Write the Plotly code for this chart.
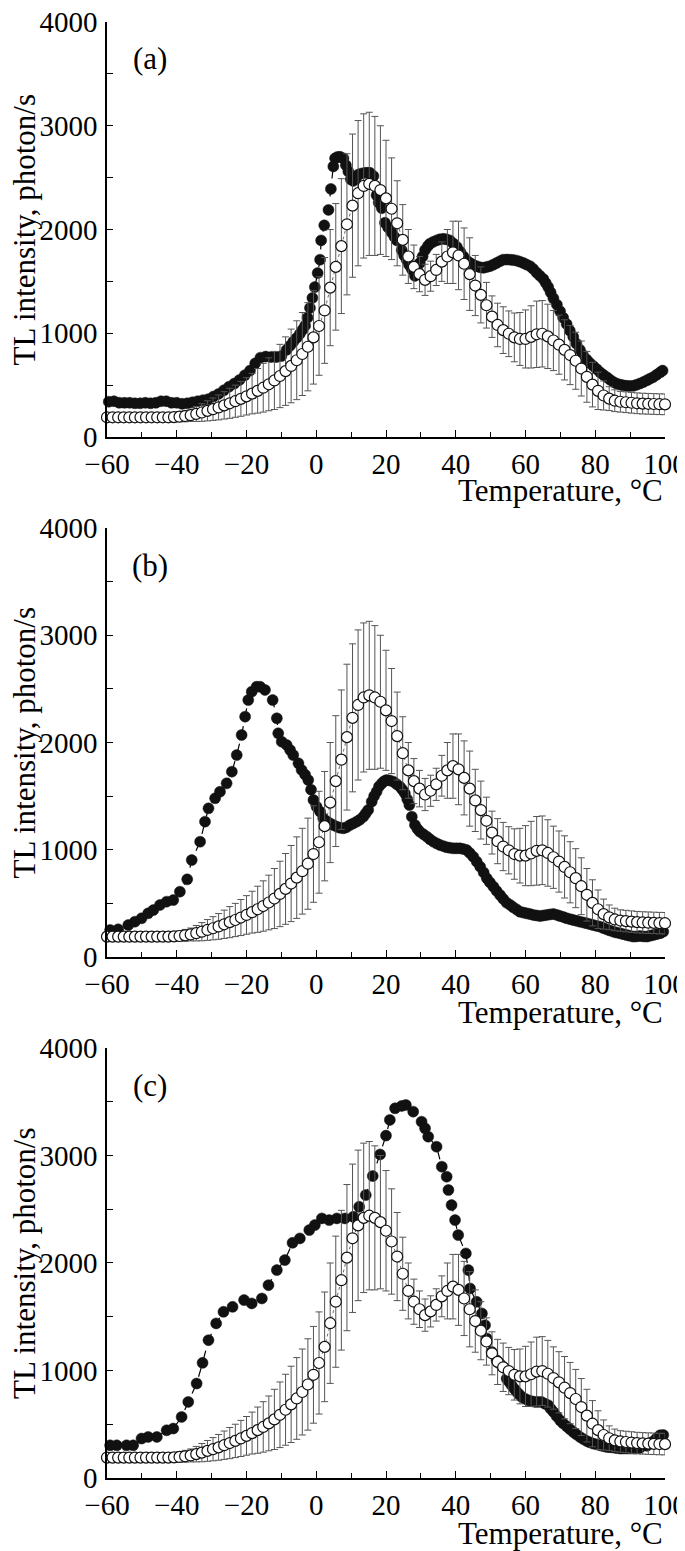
import plotly.graph_objects as go
from plotly.subplots import make_subplots

# ---------------- data ----------------
# control (open circles, mean +/- SD), same in all three panels
ctrl_t = [round(-60 + 1.6 * i, 1) for i in range(101)]
ctrl_v = [190, 190, 190, 190, 190, 190, 190, 190, 190, 190, 190, 190,
          192, 196, 202, 210, 222, 236, 252, 268, 285, 305, 325, 345, 368, 392,
          418, 445, 475, 508, 545, 588, 635, 685, 740, 800, 870, 960, 1070, 1220,
          1440, 1640, 1840, 2050, 2230, 2350, 2420, 2440, 2420, 2380, 2300, 2200,
          2060, 1900, 1740, 1640, 1570, 1515, 1550, 1610, 1690, 1740, 1780, 1750,
          1670, 1570, 1460, 1370, 1270, 1160, 1080, 1030, 995, 960, 945, 945, 965,
          990, 995, 970, 930, 890, 840, 790, 735, 660, 580, 505, 445, 400, 370,
          350, 340, 335, 330, 325, 322, 320, 318, 316, 315]
ctrl_err = [35, 35, 35, 35, 35, 35, 35, 35, 35, 35, 35, 35,
            45, 48, 55, 60, 72, 85, 97, 108, 120, 132, 145, 155, 168, 180,
            195, 215, 235, 255, 280, 305, 330, 355, 380, 400, 425, 450, 475, 510,
            560, 610, 650, 680, 690, 700, 695, 690, 670, 620, 560, 490,
            410, 340, 260, 210, 170, 150, 145, 150, 190, 260, 300, 330,
            345, 350, 290, 270, 220, 200, 210, 225, 220, 235, 255, 280, 300,
            320, 320, 310, 290, 285, 290, 285, 275, 265, 245, 215, 180, 140, 115,
            105, 100, 100, 100, 100, 100, 100, 100, 100, 100]

# panel (a) filled circles
a_t = [-59.5, -58, -56.5, -55, -53.5, -52, -50.5, -49, -47.5, -46, -44.5, -43, -41.5, -40,
       -38.5, -37, -35.5, -34, -32.5, -31, -29.5, -28, -26.5, -25, -23.5, -22, -20.5, -19,
       -17.5, -16, -14.5, -13, -11.5, -10, -8.5, -7.5, -6.6, -5.6, -4.7, -3.9, -3.2, -2.5,
       -1.8, -1.1, -0.4, 0.4, 1.1, 1.4, 2.3, 3.5, 4.2, 4.9, 5.4, 6.1, 6.8, 7.8, 8.5, 9.2,
       9.9, 10.6, 11.4, 12.1, 13.0, 14.0, 14.8, 15.4, 16.4, 17.3, 17.9, 18.8, 19.7, 20.6,
       21.6, 22.4, 23.1, 24.5, 25.2, 25.9, 26.6, 27.4, 28.3, 29.0, 29.7, 30.5, 31.2, 32.0,
       32.6, 33.5, 34.5, 35.4, 36.4, 37.3, 38.3, 39.3, 40.3, 41.3, 42.2, 43.2, 44.1, 45.0,
       46.0, 47.0, 47.9, 48.8, 49.8, 50.7, 51.7, 52.7, 53.6, 54.6, 55.6, 56.5, 57.5, 58.4,
       59.4, 60.3, 61.3, 62.2, 63.2, 64.1, 65.1, 65.8, 66.5, 67.2, 68.0, 69.0, 69.9, 70.8,
       71.8, 72.7, 73.7, 74.6, 75.6, 76.5, 77.5, 78.4, 79.4, 80.4, 81.4, 82.3, 83.3, 84.2,
       85.2, 86.1, 87.1, 88.0, 89.0, 89.9, 90.9, 91.8, 92.8, 93.8, 94.8, 95.7, 96.6, 97.6,
       98.6, 99.3]
a_v = [340, 345, 330, 330, 330, 325, 325, 330, 325, 330, 345, 345, 330, 330,
       320, 325, 335, 345, 355, 365, 390, 415, 450, 485, 515, 550, 595, 640,
       710, 765, 775, 770, 770, 780, 840, 880, 918, 955, 995, 1035, 1073, 1150,
       1244, 1340, 1445, 1580, 1709, 1895, 2040, 2189, 2391, 2608, 2686, 2700, 2701, 2686, 2620, 2560,
       2484, 2468, 2500, 2530, 2540, 2546, 2546, 2546, 2515, 2330, 2260, 2205, 2065, 2020,
       1972, 1930, 1895, 1802, 1750, 1709, 1660, 1616, 1553, 1600, 1677, 1740, 1802, 1840,
       1863, 1880, 1895, 1905, 1910, 1905, 1895, 1865, 1833, 1785, 1740, 1700, 1677, 1660,
       1647, 1635, 1631, 1638, 1647, 1660, 1677, 1695, 1709, 1710, 1709, 1705, 1700, 1690,
       1677, 1662, 1647, 1620, 1584, 1555, 1523, 1485, 1445, 1395, 1337, 1275, 1212, 1150,
       1088, 1025, 965, 900, 840, 790, 747, 715, 685, 655, 623, 600, 577, 553,
       530, 515, 505, 498, 493, 492, 493, 503, 515, 530, 546, 562, 577, 600,
       623, 640]

# panel (b) filled circles
b_t = [-59.1, -56.8, -53.9, -52.0, -50.1, -48.2, -46.7, -44.8, -42.9, -41.0, -39.1, -37.0,
       -35.7, -33.3, -31.9, -30.9, -29.0, -27.6, -25.7, -24.2, -22.8, -21.4, -20.4, -19.5,
       -18.5, -17.1, -16.1, -14.7, -12.5, -11.3, -10.9, -9.9, -8.5, -7.5, -6.6, -5.1, -4.2,
       -3.2, -2.3, -1.5, -0.8, 0.1, 1.1, 2.0, 3.0, 3.9, 4.9, 5.9, 6.8, 7.8, 8.7, 9.7, 10.6,
       11.6, 12.5, 13.5, 14.2, 14.9, 15.9, 16.6, 17.3, 18.0, 18.8, 19.5, 20.2, 21.1, 22.1,
       23.0, 24.0, 24.7, 25.4, 26.1, 26.7, 27.4, 28.3, 29.0, 29.7, 30.7, 31.7, 32.6, 33.6,
       34.6, 35.5, 36.5, 37.4, 38.3, 39.3, 40.2, 41.2, 42.1, 43.1, 44.0, 45.0, 46.0, 47.0,
       48.0, 48.9, 49.8, 50.8, 51.7, 52.7, 53.6, 54.6, 55.6, 56.5, 57.5, 58.4, 59.4, 60.3,
       61.3, 62.2, 63.2, 64.2, 65.1, 66.1, 67.0, 68.0, 69.0, 69.9, 70.9, 71.8, 72.8, 73.7,
       74.7, 75.6, 76.6, 77.5, 78.5, 79.4, 80.4, 81.4, 82.3, 83.3, 84.2, 85.2, 86.1, 87.1,
       88.0, 89.0, 89.9, 90.9, 91.8, 92.8, 93.8, 94.8, 95.7, 96.6, 97.6, 98.6, 99.5]
b_v = [252, 258, 298, 329, 361, 407, 438, 485, 516, 531, 609, 724,
       904, 1075, 1262, 1386, 1480, 1541, 1619, 1728, 1883, 2070, 2241, 2396,
       2474, 2520, 2520, 2490, 2396, 2226, 2086, 2008, 1977, 1930, 1883, 1806, 1744,
       1700, 1650, 1560, 1464, 1401, 1355, 1293, 1265, 1247, 1230, 1215, 1205, 1200, 1210, 1231, 1245,
       1262, 1280, 1308, 1340, 1371, 1448, 1500, 1541, 1590, 1619, 1640, 1650, 1645, 1635,
       1612, 1588, 1560, 1526, 1470, 1417, 1308, 1231, 1195, 1168, 1145, 1122, 1098, 1075,
       1058, 1044, 1033, 1023, 1018, 1013, 1013, 1013, 1008, 998, 970, 935, 890, 842,
       788, 734, 695, 656, 617, 578, 542, 506, 485, 463, 442, 422, 414, 407,
       400, 392, 387, 382, 387, 392, 397, 401, 392, 382, 372, 361, 353, 345,
       337, 329, 322, 314, 306, 298, 290, 283, 270, 258, 247, 236, 228, 221,
       213, 205, 198, 190, 192, 195, 192, 190, 198, 205, 213, 221, 236]

# panel (c) filled circles
c_t = [-59.1, -57.2, -54.4, -52.5, -50.1, -48.2, -45.7, -42.9, -41.0, -38.6, -36.7, -34.3,
       -32.6, -30.9, -28.7, -26.6, -24.0, -20.7, -18.5, -15.6, -13.7, -11.3, -9.0, -6.8,
       -4.7, -2.0, -0.4, 1.6, 3.7, 5.9, 8.2, 10.6, 12.3, 14.2, 16.2, 18.3, 20.0, 21.1, 22.6,
       24.5, 25.7, 27.8, 30.2, 31.2, 32.1, 34.5, 36.0, 37.4, 37.9, 38.8, 39.8, 40.7, 42.9,
       43.6, 44.1, 46.0, 47.5, 48.4, 48.9, 50.3, 51.7, 52.6, 53.6, 54.6, 55.3, 56.0, 56.8,
       57.5, 58.2, 58.9, 59.8, 60.8, 61.7, 62.7, 63.6, 64.6, 65.6, 66.5, 67.2, 68.0, 68.9,
       69.9, 70.8, 71.8, 72.7, 73.7, 74.6, 75.6, 76.5, 77.5, 78.4, 79.4, 80.4, 81.4, 82.3,
       83.3, 84.2, 85.2, 86.1, 87.1, 88.0, 89.0, 89.9, 90.9, 91.8, 92.8, 94.8, 96.6, 97.6,
       98.6, 99.5]
c_v = [304, 304, 304, 304, 367, 382, 382, 444, 460, 568, 708, 879,
       1071, 1282, 1438, 1546, 1592, 1655, 1624, 1670, 1794, 1934, 2027, 2188,
       2229, 2306, 2353, 2415, 2399, 2415, 2415, 2430, 2523, 2632, 2809, 3010, 3185, 3331, 3439,
       3461, 3470, 3408, 3315, 3253, 3175, 3082, 2896, 2803, 2679, 2539, 2399, 2260, 2089,
       1934, 1763, 1639, 1531, 1422, 1298, 1173, 1096, 1065, 1033, 925, 895, 863, 830,
       801, 778, 754, 738, 723, 715, 708, 708, 708, 690, 677, 645, 615, 575,
       537, 508, 481, 455, 428, 405, 382, 363, 345, 332, 320, 312, 304, 296,
       289, 286, 283, 278, 274, 274, 274, 274, 274, 276, 280, 300, 340, 370,
       398, 400]

panels = [("(a)", a_t, a_v), ("(b)", b_t, b_v), ("(c)", c_t, c_v)]

x_ticks = [-60, -40, -20, 0, 20, 40, 60, 80, 100]
y_ticks = [0, 1000, 2000, 3000, 4000]

# ---------------- figure ----------------
FONT = "Liberation Serif"
FS_TICK = 29
FS_TITLE = 31
fig = make_subplots(rows=3, cols=1)

domains = [[0.71497, 1.0], [0.35783, 0.65247], [0.0, 0.29533]]

for i, (label, bt, bv) in enumerate(panels):
    r = i + 1
    fig.add_trace(go.Scatter(
        x=bt, y=bv, mode="lines+markers",
        line=dict(color="black", width=1.2, dash="dash"),
        marker=dict(size=11, color="#111111", line=dict(color="#111111", width=0.5)),
        cliponaxis=False, showlegend=False), row=r, col=1)
    fig.add_trace(go.Scatter(
        x=ctrl_t, y=ctrl_v, mode="lines+markers",
        line=dict(color="#444444", width=0.8, dash="dot"),
        marker=dict(size=11, color="white", line=dict(color="#111111", width=1.2)),
        error_y=dict(type="data", array=ctrl_err, visible=True,
                     color="#555555", thickness=1, width=3.5),
        cliponaxis=False, showlegend=False), row=r, col=1)

    xa = "xaxis" if r == 1 else f"xaxis{r}"
    ya = "yaxis" if r == 1 else f"yaxis{r}"
    fig.layout[xa].update(
        range=[-60, 100], tickvals=x_ticks, ticks="inside", ticklen=7, tickwidth=1.3,
        tickcolor="black", showline=True, linecolor="black", linewidth=1.5,
        showgrid=False, zeroline=False, ticklabelstandoff=0, automargin=False,
        ticklabeloverflow="allow",
        tickfont=dict(family=FONT, size=FS_TICK, color="black"),
        minor=dict(dtick=10, tick0=-60, ticks="inside", ticklen=5, tickwidth=1.3,
                   tickcolor="black", showgrid=False))
    fig.layout[ya].update(
        range=[0, 4000], tickvals=y_ticks, ticks="inside", ticklen=6, tickwidth=1.3,
        tickcolor="black", showline=True, linecolor="black", linewidth=1.5,
        showgrid=False, zeroline=False, domain=domains[i], ticklabelstandoff=2,
        automargin=False, ticklabeloverflow="allow",
        tickfont=dict(family=FONT, size=FS_TICK, color="black"),
        minor=dict(dtick=500, tick0=0, ticks="inside", ticklen=6, tickwidth=1.3,
                   tickcolor="black", showgrid=False))

    xref = "x" if r == 1 else f"x{r}"
    yref = "y" if r == 1 else f"y{r}"
    # panel label
    fig.add_annotation(x=-47.7, y=3650, xref=xref, yref=yref, text=label,
                       showarrow=False, font=dict(family=FONT, size=FS_TITLE, color="black"))
    # x title
    fig.add_annotation(x=1.0, y=-0.13, xref=f"{xref} domain", yref=f"{yref} domain",
                       text="Temperature, °C", showarrow=False, xanchor="right",
                       yanchor="middle",
                       font=dict(family=FONT, size=FS_TITLE, color="black"))
    # y title
    fig.add_annotation(x=-0.147, y=0.5, xref="paper", yref=f"{yref} domain",
                       text="TL intensity, photon/s", showarrow=False, textangle=-90,
                       xanchor="center", yanchor="middle",
                       font=dict(family=FONT, size=FS_TITLE, color="black"))

fig.update_layout(
    width=685, height=1551,
    margin=dict(l=99, r=28, t=14, b=81),
    plot_bgcolor="white", paper_bgcolor="white",
    showlegend=False,
)

fig.write_html("out.html")
